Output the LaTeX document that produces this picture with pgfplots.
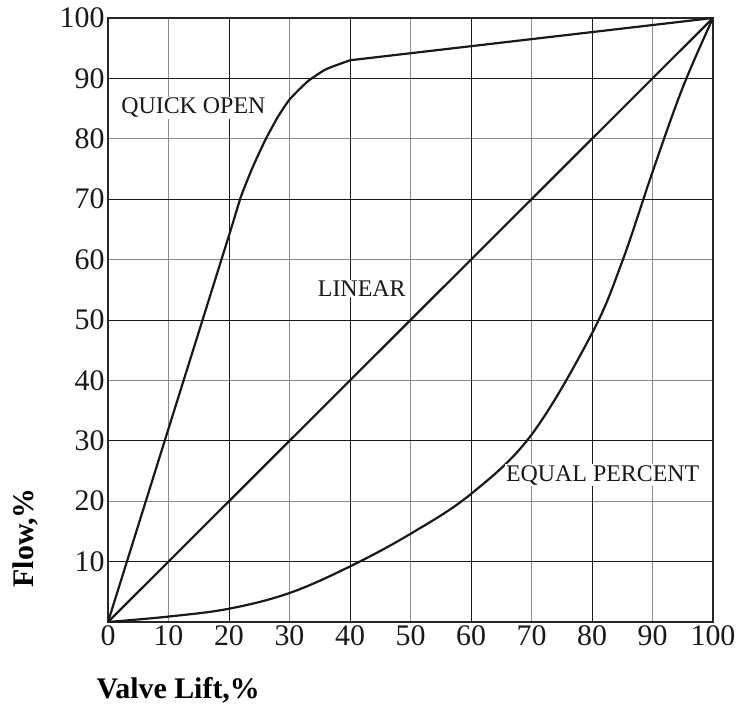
\documentclass[border=0pt]{standalone}
\usepackage{fontspec}
\setmainfont{Liberation Serif}
\usepackage{pgfplots}
\pgfplotsset{compat=1.18}

\begin{document}
\begin{tikzpicture}
\begin{axis}[
    scale only axis,
    width=605bp, height=604bp,
    at={(0,0)}, anchor=south west,
    xmin=0, xmax=100, ymin=0, ymax=100,
    xtick={0,10,...,100},
    ytick={10,20,...,100},
    major tick length=0pt,
    grid=major,
    x grid style={black!45, line width=0.8bp},
    y grid style={black!45, line width=0.8bp},
    extra x ticks={20,40,60,80}, extra x tick labels={},
    extra x tick style={grid=major, x grid style={black!90, line width=0.8bp}},
    extra y ticks={10,30,50,70,90}, extra y tick labels={},
    extra y tick style={grid=major, y grid style={black!90, line width=0.8bp}},
    axis line style={line width=2bp, black!85},
    /pgf/number format/assume math mode=true,
    tick label style={font=\fontsize{30}{36}\selectfont, text=black!90},
    xlabel={Valve Lift,\%},
    ylabel={Flow,\%},
    label style={font=\fontsize{30}{36}\selectfont\bfseries},
    xlabel style={at={(axis description cs:0.116,-0.1126)}, anchor=center},
    ylabel style={at={(axis description cs:-0.137,0.139)}, anchor=center, rotate=0},
]
% quick open
\addplot[line width=2.2bp, black!90, smooth, tension=0.3] coordinates {
  (0,0) (10,32) (20,64) (22,70.5) (24,75.5) (26,79.8) (28,83.5) (30,86.5)
  (33,89.5) (36,91.5) (40,93)};
\addplot[line width=2.2bp, black!90] coordinates {(40,93) (100,100)};
% linear
\addplot[line width=2.2bp, black!90] coordinates {(0,0) (100,100)};
% equal percent
\addplot[line width=2.2bp, black!90, smooth, tension=0.6] coordinates {
  (0,0) (10,0.9) (20,2.2) (30,4.8) (40,9.2) (50,14.6) (60,21.2) (70,31)
  (80,47.8) (85,59.7) (90,74.5) (95,88.5) (100,100)};
\node[anchor=west, fill=white, inner sep=1bp, font=\fontsize{24}{28}\selectfont, text=black!90]
  at (axis cs:2,85.1) {QUICK OPEN};
\node[anchor=west, fill=white, inner sep=1bp, font=\fontsize{24}{28}\selectfont, text=black!90]
  at (axis cs:34.5,55.2) {LINEAR};
\node[anchor=west, fill=white, inner sep=1bp, font=\fontsize{24}{28}\selectfont, text=black!90]
  at (axis cs:65.6,24.3) {EQUAL PERCENT};
\end{axis}
\pgfresetboundingbox
\path (-108bp,-86bp) rectangle (630bp,622bp);
\end{tikzpicture}
\end{document}
